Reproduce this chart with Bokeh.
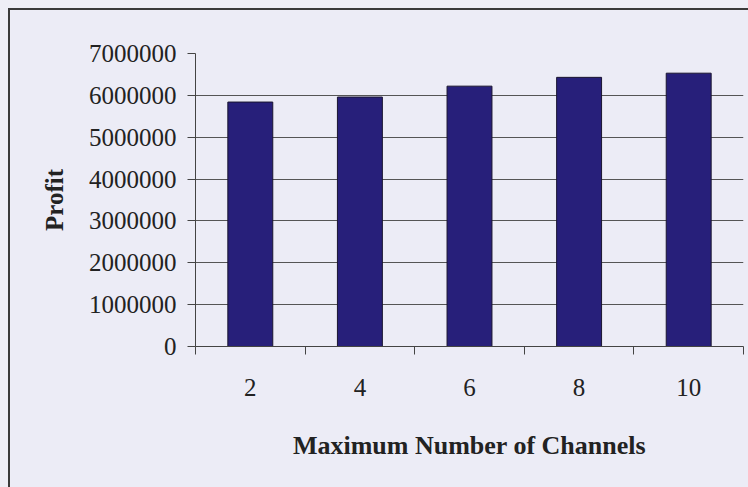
from bokeh.plotting import figure
from bokeh.models import FixedTicker, BasicTickFormatter, Range1d
from bokeh.embed import file_html
from bokeh.resources import INLINE

channels = [2, 4, 6, 8, 10]
profit = [5840000, 5960000, 6220000, 6430000, 6530000]
y_ticks = [0, 1000000, 2000000, 3000000, 4000000, 5000000, 6000000, 7000000]
boundaries = [1, 3, 5, 7, 9, 11]

BG = "#ECECF6"
FONT = "Liberation Serif"

p = figure(width=740, height=479, output_backend="svg", toolbar_location=None,
           x_range=Range1d(1, 11), y_range=Range1d(0, 7000000),
           min_border_left=185, min_border_right=7, min_border_top=43, min_border_bottom=143,
           background_fill_color=BG, border_fill_color=BG,
           styles={"margin-left": "8px", "margin-top": "8px",
                   "border-left": "2px solid #3a3a3a", "border-top": "2px solid #3a3a3a"})
p.outline_line_color = None

p.vbar(x=channels, top=profit, width=0.82, fill_color="#271F7A", line_color="#1a1530", line_width=1)

# y axis
p.yaxis.ticker = FixedTicker(ticks=y_ticks)
p.yaxis.formatter = BasicTickFormatter(use_scientific=False)
p.yaxis.major_tick_out = 8
p.yaxis.major_tick_in = 0
p.yaxis.minor_tick_out = 0
p.yaxis.minor_tick_in = 0
p.yaxis.axis_line_color = "#444444"
p.yaxis.major_tick_line_color = "#444444"
p.yaxis.major_label_text_font = FONT
p.yaxis.major_label_text_font_size = "25px"
p.yaxis.major_label_text_color = "#222222"
p.yaxis.major_label_standoff = 11
p.yaxis.axis_label = "Profit"
p.yaxis.axis_label_text_font = FONT
p.yaxis.axis_label_text_font_size = "25px"
p.yaxis.axis_label_text_font_style = "bold"
p.yaxis.axis_label_text_color = "#222222"
p.yaxis.axis_label_standoff = 18

# x axis
p.xaxis.ticker = FixedTicker(ticks=channels, minor_ticks=boundaries)
p.xaxis.major_tick_out = 0
p.xaxis.major_tick_in = 0
p.xaxis.minor_tick_out = 8
p.xaxis.minor_tick_in = 0
p.xaxis.minor_tick_line_color = "#444444"
p.xaxis.axis_line_color = "#444444"
p.xaxis.major_label_text_font = FONT
p.xaxis.major_label_text_font_size = "25px"
p.xaxis.major_label_text_color = "#222222"
p.xaxis.major_label_standoff = 24
p.xaxis.axis_label = "Maximum Number of Channels"
p.xaxis.axis_label_text_font = FONT
p.xaxis.axis_label_text_font_size = "26px"
p.xaxis.axis_label_text_font_style = "bold"
p.xaxis.axis_label_text_color = "#222222"
p.xaxis.axis_label_standoff = 32

p.xgrid.grid_line_color = None
p.ygrid.ticker = FixedTicker(ticks=y_ticks)
p.ygrid.grid_line_color = "#555555"
p.ygrid.grid_line_width = 1

html = file_html(p, INLINE)
html = html.replace("</head>", "<style>html, body { background-color: #EEEEF6; }</style></head>", 1)
open("out.html", "w").write(html)
